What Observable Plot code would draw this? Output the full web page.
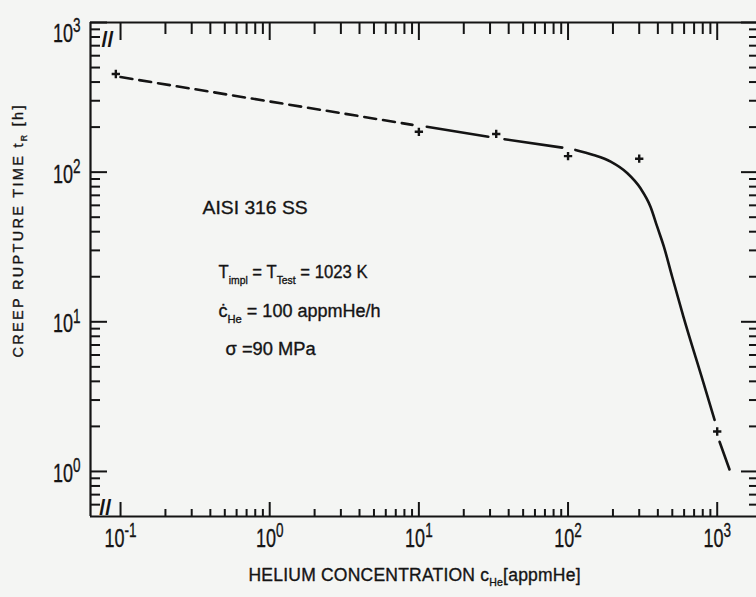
<!DOCTYPE html>
<html>
<head>
<meta charset="utf-8">
<script src="https://cdn.jsdelivr.net/npm/d3@7"></script>
<script src="https://cdn.jsdelivr.net/npm/@observablehq/plot@0.6"></script>
<style>
  html, body { margin: 0; padding: 0; background: #f4f5f3; overflow: hidden; }
  #chart svg { display: block; }
</style>
</head>
<body>
<div id="chart"></div>
<script>
// ---- measured data points (+ markers) ----
const pointConc = [0.093, 10, 33, 100, 300, 1000];      // appmHe
const pointTime = [453, 186, 180, 128, 123, 1.85];      // h

// ---- hand-drawn fit line (segments broken at markers) ----
const lineSegment = ["A", "A", "B", "B", "C", "C",
  "D", "D", "D", "D", "D", "D", "D", "D", "D", "D", "D", "D", "E", "E"];
const lineConc = [0.1, 9.06, 11.3, 29.2, 37.5, 91.4,
  112, 148, 193, 250, 306, 357, 396, 439, 499, 594, 809, 960, 1037, 1209];
const lineTime = [432, 207, 201, 172.6, 166, 145.8,
  140.8, 130.3, 117.5, 98.3, 78.0, 58.8, 43.2, 31.8, 20.0, 10.8, 3.91, 2.21, 1.58, 1.03];

// ---- axes ----
const xMajorTicks = [0.1, 1, 10, 100, 1000];
const xTickLabels = ["10^{-1}", "10^{0}", "10^{1}", "10^{2}", "10^{3}"];
const yMajorTicks = [1, 10, 100, 1000];
const yTickLabels = ["10^{0}", "10^{1}", "10^{2}", "10^{3}"];
const tickMantissas = [2, 3, 4, 5, 6, 7, 8, 9];
const xMinorDecades = [0.1, 1, 10, 100];
const yMinorDecades = [1, 10, 100];
const yLowMinorTicks = [0.6, 0.7, 0.8, 0.9];
const xDomain = [0.0629, 1834];
const yDomain = [0.5, 1000];
const xTitle = "HELIUM CONCENTRATION c_{He}[appmHe]";
const yTitle = "CREEP RUPTURE TIME t_{R} [h]";

// ---- annotations (data coordinates) ----
const noteText = ["AISI 316 SS", "T_{impl} = T_{Test} = 1023 K", "ċ_{He} = 100 appmHe/h", "σ =90 MPa"];
const noteConc = [0.355, 0.454, 0.454, 0.506];
const noteTime = [57.7, 21.3, 11.7, 6.6];
const axisBreakConc = [0.0818, 0.079];
const axisBreakAt = ["top", "bottom"];

// ---- build tables ----
const points = pointConc.map((x, i) => ({x, y: pointTime[i]}));
const fitLine = lineConc.map((x, i) => ({x, y: lineTime[i], seg: lineSegment[i]}));
const xMinorTicks = xMinorDecades.flatMap(d => tickMantissas.map(m => +(m * d).toPrecision(3)));
const yMinorTicks = yLowMinorTicks.concat(yMinorDecades.flatMap(d => tickMantissas.map(m => m * d)));
const xLabels = xMajorTicks.map((v, i) => ({v, label: xTickLabels[i]}));
const yLabels = yMajorTicks.map((v, i) => ({v, label: yTickLabels[i]}));
const notes = noteText.map((t, i) => ({t, x: noteConc[i], y: noteTime[i], i}));
const breaks = axisBreakConc.map((x, i) => ({x, at: axisBreakAt[i]}));

const ink = "#141414";
const font = "'Liberation Sans', Arial, sans-serif";
const textInk = {fill: ink, stroke: ink, strokeWidth: 0.35};

const tickAxis = (fn, data, anchor, size) =>
  fn(data, {anchor, tickSize: -size, strokeWidth: 2, stroke: ink, fill: "none", label: null});

const chart = Plot.plot({
  width: 756,
  height: 597,
  marginLeft: 90,
  marginRight: 0,
  marginTop: 22,
  marginBottom: 81,
  style: {background: "transparent", color: ink, fontFamily: font},
  x: {type: "log", domain: xDomain},
  y: {type: "log", domain: yDomain},
  marks: [
    // frame lines
    Plot.ruleY([yDomain[0], yDomain[1]], {stroke: ink, strokeWidth: 2.2}),
    Plot.ruleX([xDomain[0]], {stroke: ink, strokeWidth: 2.2}),
    // inward ticks
    tickAxis(Plot.axisX, xMinorTicks, "bottom", 7),
    tickAxis(Plot.axisX, xMajorTicks, "bottom", 14),
    tickAxis(Plot.axisX, xMinorTicks, "top", 11),
    tickAxis(Plot.axisX, xMajorTicks, "top", 17),
    tickAxis(Plot.axisY, yMinorTicks, "left", 10),
    tickAxis(Plot.axisY, yMajorTicks, "left", 17),
    tickAxis(Plot.axisY, yMinorTicks, "right", 8),
    tickAxis(Plot.axisY, yMajorTicks, "right", 16),
    // axis break marks
    Plot.text(breaks.filter(d => d.at === "top"), {x: "x", frameAnchor: "top", dy: 9, text: () => "//",
      fontSize: 22, fontWeight: "bold", fill: ink}),
    Plot.text(breaks.filter(d => d.at === "bottom"), {x: "x", frameAnchor: "bottom", dy: -2, text: () => "//",
      fontSize: 22, fontWeight: "bold", fill: ink}),
    // tick labels
    Plot.text(xLabels, {x: "v", text: "label", frameAnchor: "bottom", dy: 30,
      fontSize: 26.5, ...textInk}),
    Plot.text(yLabels.filter(d => d.v < 1000), {y: "v", text: "label", frameAnchor: "left", dx: -10, dy: 2,
      textAnchor: "end", fontSize: 26.5, ...textInk}),
    Plot.text(yLabels.filter(d => d.v >= 1000), {y: "v", text: "label", frameAnchor: "left", dx: -10, dy: 11,
      textAnchor: "end", fontSize: 26.5, ...textInk}),
    // axis titles
    Plot.text([xTitle], {text: d => d, frameAnchor: "bottom-left", dx: 158, dy: 64, textAnchor: "start",
      fontSize: 17.5, ...textInk}),
    Plot.text([yTitle], {text: d => d, frameAnchor: "left", dx: -72, dy: 88, rotate: -90, textAnchor: "start",
      fontSize: 14.5, ...textInk}),
    // fit line
    Plot.line(fitLine.filter(d => d.seg === "A"), {x: "x", y: "y", stroke: ink, strokeWidth: 2.6,
      strokeDasharray: "12,7"}),
    Plot.line(fitLine.filter(d => d.seg !== "A"), {x: "x", y: "y", z: "seg", stroke: ink, strokeWidth: 2.6,
      curve: "monotone-x"}),
    // data points
    Plot.dot(points, {x: "x", y: "y", symbol: "plus", r: 2.8, stroke: ink, strokeWidth: 2.4}),
    // annotations
    Plot.text(notes.filter(d => d.i === 0), {x: "x", y: "y", text: "t", textAnchor: "start",
      fontSize: 19, ...textInk}),
    Plot.text(notes.filter(d => d.i > 0), {x: "x", y: "y", text: "t", textAnchor: "start",
      fontSize: 18, ...textInk})
  ]
});

document.getElementById("chart").appendChild(chart);

// ---- rich text: sub/superscripts and condensed plotter lettering ----
const NS = "http://www.w3.org/2000/svg";
function rich(el, o) {
  const s = el.textContent;
  const fs = parseFloat(getComputedStyle(el).fontSize) || 16;
  const parts = s.split(/([_^]\{[^}]*\})/);
  el.textContent = "";
  let off = 0;
  for (const p of parts) {
    if (!p) continue;
    const m = p.match(/^([_^])\{([^}]*)\}$/);
    const t = document.createElementNS(NS, "tspan");
    let target = 0;
    if (m) {
      const sub = m[1] === "_";
      target = sub ? (o.subShift || 0.3) * fs : -(o.supShift || 0.35) * fs;
      t.setAttribute("font-size", ((sub ? o.subSize : o.supSize) || 0.65) * fs);
      t.textContent = m[2];
    } else {
      t.textContent = p;
    }
    if (target !== off) t.setAttribute("dy", (target - off).toFixed(2));
    off = target;
    el.appendChild(t);
  }
  if (o.textLength) {
    el.setAttribute("textLength", o.textLength);
    el.setAttribute("lengthAdjust", o.lengthAdjust || "spacingAndGlyphs");
  }
  if (o.scaleX) {
    el.setAttribute("transform", (el.getAttribute("transform") || "") + ` scale(${o.scaleX},1)`);
  }
}
const noteWidths = [105, 149, 162, 90];
chart.querySelectorAll("text").forEach(el => {
  const s = el.textContent;
  if (xTickLabels.includes(s) || yTickLabels.includes(s)) {
    rich(el, {scaleX: 0.68, supSize: 0.75, supShift: 0.36});
  } else if (s === xTitle) {
    rich(el, {subSize: 0.6, subShift: 0.3, textLength: 332, lengthAdjust: "spacing"});
  } else if (s === yTitle) {
    rich(el, {subSize: 0.6, subShift: 0.25, textLength: 252, lengthAdjust: "spacing"});
  } else {
    const i = noteText.indexOf(s);
    if (i >= 0) rich(el, {subSize: 0.62, subShift: 0.3, textLength: noteWidths[i]});
  }
});
</script>
</body>
</html>
